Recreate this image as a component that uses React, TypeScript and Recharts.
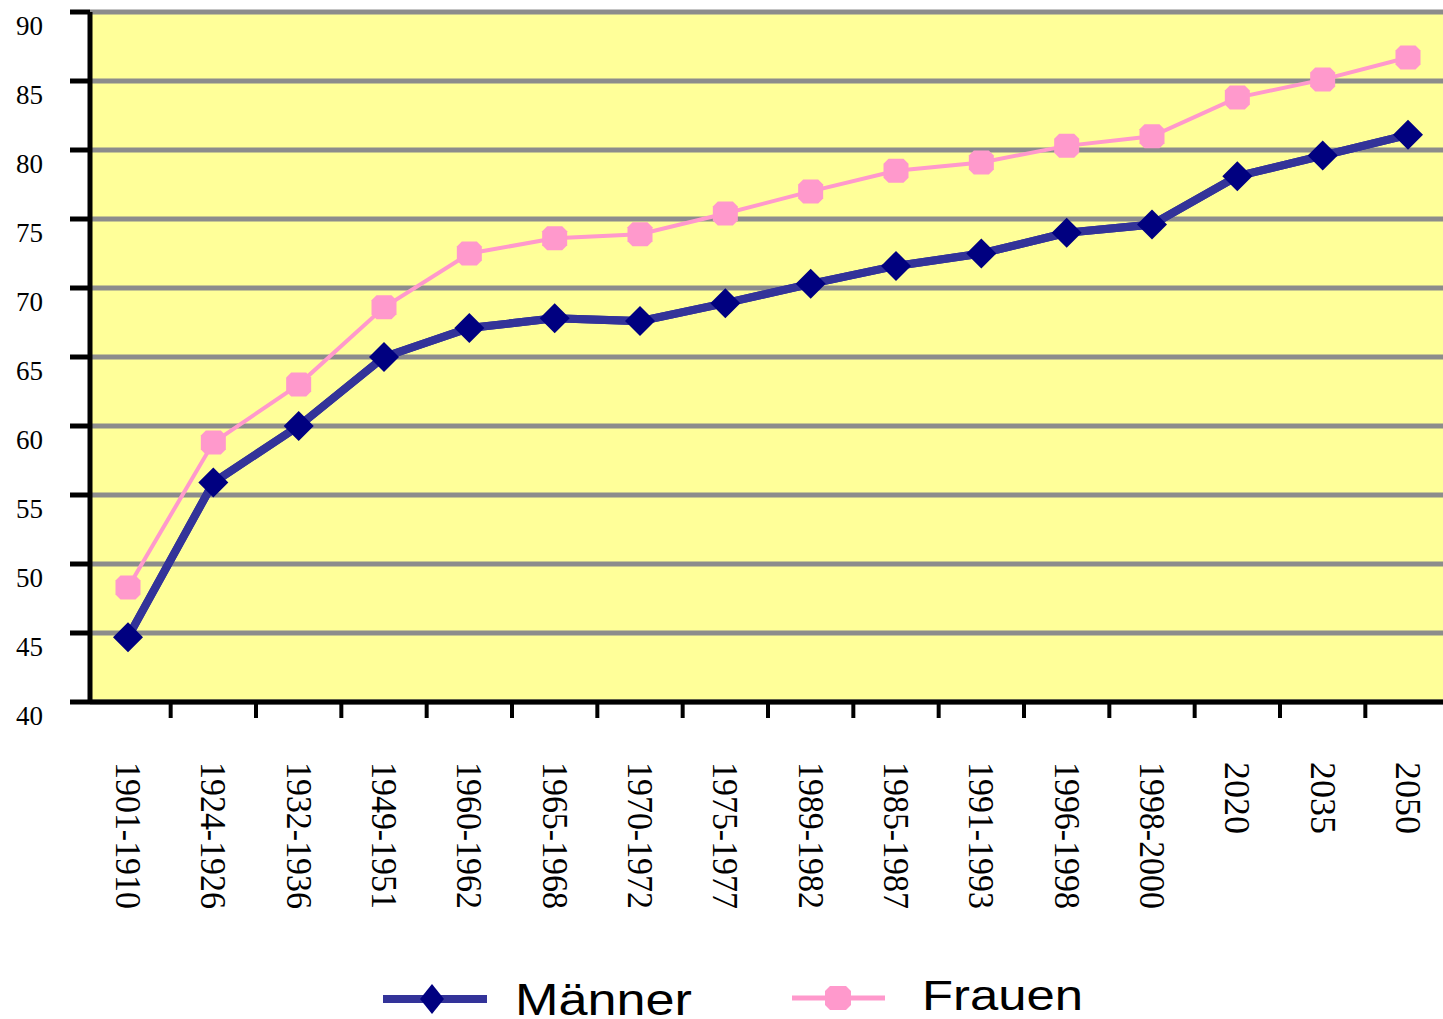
import React from 'react';
import { LineChart, Line, XAxis, YAxis, CartesianGrid, Legend } from 'recharts';

const categories = ['1901-1910', '1924-1926', '1932-1936', '1949-1951', '1960-1962', '1965-1968', '1970-1972', '1975-1977', '1989-1982', '1985-1987', '1991-1993', '1996-1998', '1998-2000', '2020', '2035', '2050'];
const maenner = [44.7, 55.9, 60.0, 65.0, 67.1, 67.8, 67.6, 68.9, 70.3, 71.6, 72.5, 74.0, 74.6, 78.1, 79.6, 81.1];
const frauen = [48.3, 58.8, 63.0, 68.6, 72.5, 73.6, 73.9, 75.4, 77.0, 78.5, 79.1, 80.3, 81.0, 83.8, 85.1, 86.7];
const yTicks = [40, 45, 50, 55, 60, 65, 70, 75, 80, 85, 90];
const seriesNames = ['Männer', 'Frauen'];

const data = categories.map((c, i) => ({ cat: c, m: maenner[i], f: frauen[i] }));

const BLUE_LINE = '#333399';
const BLUE_MARK = '#000080';
const PINK = '#ff99cc';
const SERIF = "'Liberation Serif', 'Times New Roman', serif";
const SANS = "'Liberation Sans', Arial, sans-serif";
const HALF_STEP = 42.67;
const PLOT_LEFT = 90;

const diamond = (cx: number, cy: number, hw: number, hh: number) =>
  `M${cx},${cy - hh} L${cx + hw},${cy} L${cx},${cy + hh} L${cx - hw},${cy} Z`;

const octagon = (cx: number, cy: number, hw: number, hh: number, c: number) =>
  `M${cx - hw + c},${cy - hh} L${cx + hw - c},${cy - hh} L${cx + hw},${cy - hh + c} L${cx + hw},${cy + hh - c} L${cx + hw - c},${cy + hh} L${cx - hw + c},${cy + hh} L${cx - hw},${cy + hh - c} L${cx - hw},${cy - hh + c} Z`;

const DiamondDot = (props: any) => {
  const { cx, cy, index } = props;
  if (cx == null || cy == null) return <g key={`d${index}`} />;
  return <path key={`d${index}`} d={diamond(cx, cy, 15, 15)} fill={BLUE_MARK} />;
};

const OctDot = (props: any) => {
  const { cx, cy, index } = props;
  if (cx == null || cy == null) return <g key={`o${index}`} />;
  return <path key={`o${index}`} d={octagon(cx, cy, 12.5, 12, 5)} fill={PINK} />;
};

const YTick = (props: any) => {
  const { x, y, payload } = props;
  return (
    <text x={x - 25} y={y + 14} textAnchor="end" dominantBaseline="central" fontFamily={SERIF} style={{ fontFamily: SERIF }} fontSize={27} fill="#000">
      {payload.value}
    </text>
  );
};

const XTick = (props: any) => {
  const { x, y, payload, index } = props;
  const bx = Math.max(PLOT_LEFT, x - HALF_STEP);
  const ty = y + 60;
  const label = String(payload.value);
  const extra = label.length > 4 ? { textLength: 147, lengthAdjust: 'spacingAndGlyphs' } : {};
  return (
    <g>
      {index > 0 && <line x1={bx} y1={y} x2={bx} y2={y + 16} stroke="#000" strokeWidth={4} />}
      <text
        x={x}
        y={ty}
        transform={`rotate(90, ${x}, ${ty})`}
        textAnchor="start"
        dominantBaseline="central"
        fontFamily={SERIF}
        style={{ fontFamily: SERIF }}
        fontSize={36}
        fill="#000"
        {...extra}
      >
        {label}
      </text>
    </g>
  );
};

const LegendContent = () => (
  <svg width={1100} height={70} style={{ display: 'block', overflow: 'visible' }}>
    <line x1={375} y1={36} x2={479} y2={36} stroke={BLUE_LINE} strokeWidth={8} />
    <path d={diamond(424, 36, 12, 15)} fill={BLUE_MARK} />
    <text x={507} y={52} fontFamily={SANS} style={{ fontFamily: SANS }} fontSize={44} textLength={177} lengthAdjust="spacingAndGlyphs" fill="#000">
      {seriesNames[0]}
    </text>
    <line x1={784} y1={35} x2={877} y2={35} stroke={PINK} strokeWidth={5} />
    <path d={octagon(830, 35, 13, 12, 5)} fill={PINK} />
    <text x={914} y={47} fontFamily={SANS} style={{ fontFamily: SANS }} fontSize={43} textLength={161} lengthAdjust="spacingAndGlyphs" fill="#000">
      {seriesNames[1]}
    </text>
  </svg>
);

export default function App() {
  return (
    <div style={{ position: 'absolute', left: 0, top: 0, width: 1443, height: 1019, overflow: 'hidden', background: '#fff' }}>
      <LineChart width={1453} height={1019} data={data} margin={{ top: 12, right: 2, bottom: 0, left: 0 }}>
        <CartesianGrid horizontal={true} vertical={false} stroke="#8c8c8c" strokeWidth={5} fill="#ffff99" fillOpacity={1} />
        <XAxis
          dataKey="cat"
          height={317}
          interval={0}
          padding={{ left: 38, right: 43 }}
          tickSize={0}
          tickMargin={0}
          tickLine={false}
          axisLine={{ stroke: '#000', strokeWidth: 5 }}
          tick={<XTick />}
        />
        <YAxis
          width={PLOT_LEFT}
          domain={[40, 90]}
          ticks={yTicks}
          type="number"
          allowDataOverflow
          tickSize={20}
          tickMargin={2}
          tickLine={{ stroke: '#000', strokeWidth: 5 }}
          axisLine={{ stroke: '#000', strokeWidth: 5 }}
          tick={<YTick />}
        />
        <Legend
          layout="horizontal"
          verticalAlign="middle"
          align="center"
          content={<LegendContent />}
          wrapperStyle={{ top: 963, left: 8, width: 1100, height: 70 }}
        />
        <Line dataKey="f" name={seriesNames[1]} stroke={PINK} strokeWidth={4} dot={OctDot} activeDot={false} isAnimationActive={false} />
        <Line dataKey="m" name={seriesNames[0]} stroke={BLUE_LINE} strokeWidth={8} dot={DiamondDot} activeDot={false} isAnimationActive={false} />
        <Line dataKey="m" legendType="none" stroke={BLUE_LINE} strokeWidth={8} dot={false} activeDot={false} isAnimationActive={false} />
      </LineChart>
    </div>
  );
}
